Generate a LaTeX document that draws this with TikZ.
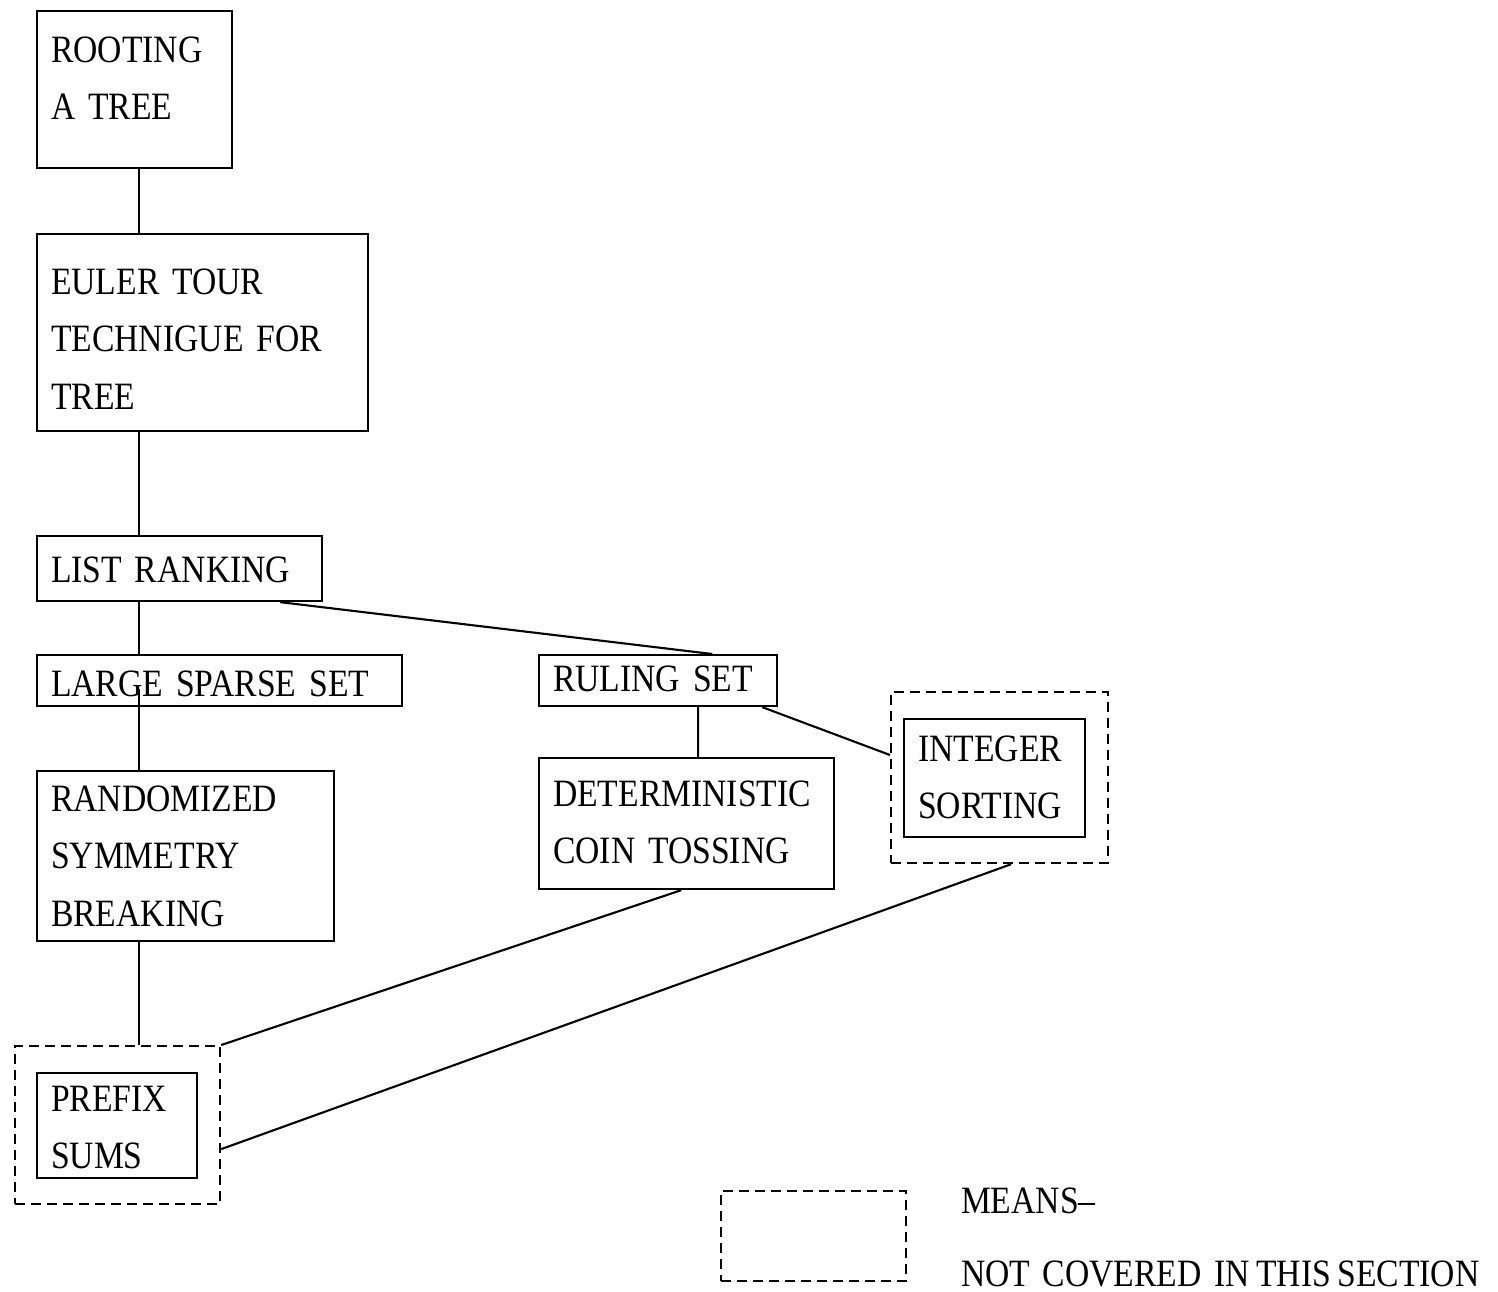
\documentclass[tikz,border=0pt]{standalone}
\usepackage{fontspec}
\setmainfont{Liberation Serif}[FakeStretch=0.87, WordSpace=0.75]
\usetikzlibrary{positioning,calc}

\begin{document}
\begin{tikzpicture}[x=0.01cm, y=-0.01cm, line width=0.6pt,
        font=\fontsize{11}{16.4}\selectfont,
        box/.style={draw, anchor=north west, align=left, inner xsep=0.14cm, inner ysep=0pt},
        notcov/.style={draw, dash pattern=on 2.85pt off 1.7pt, anchor=north west,
                       inner sep=0pt},
        lbl/.style={anchor=base west, inner sep=0pt}]
        \useasboundingbox (0,0) rectangle (1498,1291);
        \coordinate (spine) at (139,0);

        % left column
        \node[box, text width=1.67cm, text height=0.51cm, text depth=1.06cm] (root) at (36,10) {ROOTING\\A TREE};
        \node[box, text width=3.03cm, text height=0.60cm, text depth=1.37cm] (euler) at (36,233) {EULER TOUR\\TECHNIGUE FOR\\TREE};
        \node[box, text width=2.57cm, text height=0.46cm, text depth=0.19cm] (list) at (36,535) {LIST RANKING};
        \node[box, text width=3.37cm, text height=0.41cm, text depth=0.10cm] (large) at (36,654) {LARGE SPARSE SET};
        \node[box, text width=2.69cm, text height=0.40cm, text depth=1.30cm] (rand) at (36,770) {RANDOMIZED\\SYMMETRY\\BREAKING};
        \node[notcov, minimum width=2.05cm, minimum height=1.58cm] (prefixcov) at (14,1045) {};
        \node[box, text width=1.32cm, text height=0.38cm, text depth=0.67cm] (prefix) at (36,1072) {PREFIX\\SUMS};

        % right part
        \node[box, text width=2.10cm, text height=0.36cm, text depth=0.15cm] (ruling) at (538,654) {RULING SET};
        \node[box, text width=2.67cm, text height=0.48cm, text depth=0.83cm] (det) at (538,757) {DETERMINISTIC\\COIN TOSSING};
        \node[notcov, minimum width=2.17cm, minimum height=1.71cm] (intcov) at (890,691) {};
        \node[box, text width=1.53cm, text height=0.42cm, text depth=0.76cm] (integer) at (903,718) {INTEGER\\SORTING};

        % legend
        \node[notcov, minimum width=1.85cm, minimum height=0.90cm] (legend) at (720,1190) {};
        \node[lbl] (means) at (960,1213) {MEANS--};
        \node[lbl] (notcovtxt) at (960,1286) {NOT\ \ COVERED\ \ IN THIS SECTION};

        \draw (root.south -| spine) -- (euler.north -| spine);
        \draw (euler.south -| spine) -- (list.north -| spine);
        \draw (list.south -| spine) -- (large.north -| spine);
        \draw ($(large.center -| spine)+(0,8)$) -- (rand.north -| spine);
        \draw (rand.south -| spine) -- (prefixcov.north -| spine);
        \draw ($(list.south east)+(-43,0)$) -- ($(ruling.north east)+(-66,0)$);
        \draw ($(ruling.south)+(40,0)$) -- ($(det.north)+(11.5,0)$);
        \draw ($(ruling.south east)+(-16,0)$) -- ($(intcov.north west)+(0,64)$);
        \draw ($(det.south)+(-5.5,0)$) -- (prefixcov.north east);
        \draw ($(intcov.south)+(11.5,0)$) -- ($(prefixcov.east)+(0,24)$);
    \end{tikzpicture}
\end{document}
